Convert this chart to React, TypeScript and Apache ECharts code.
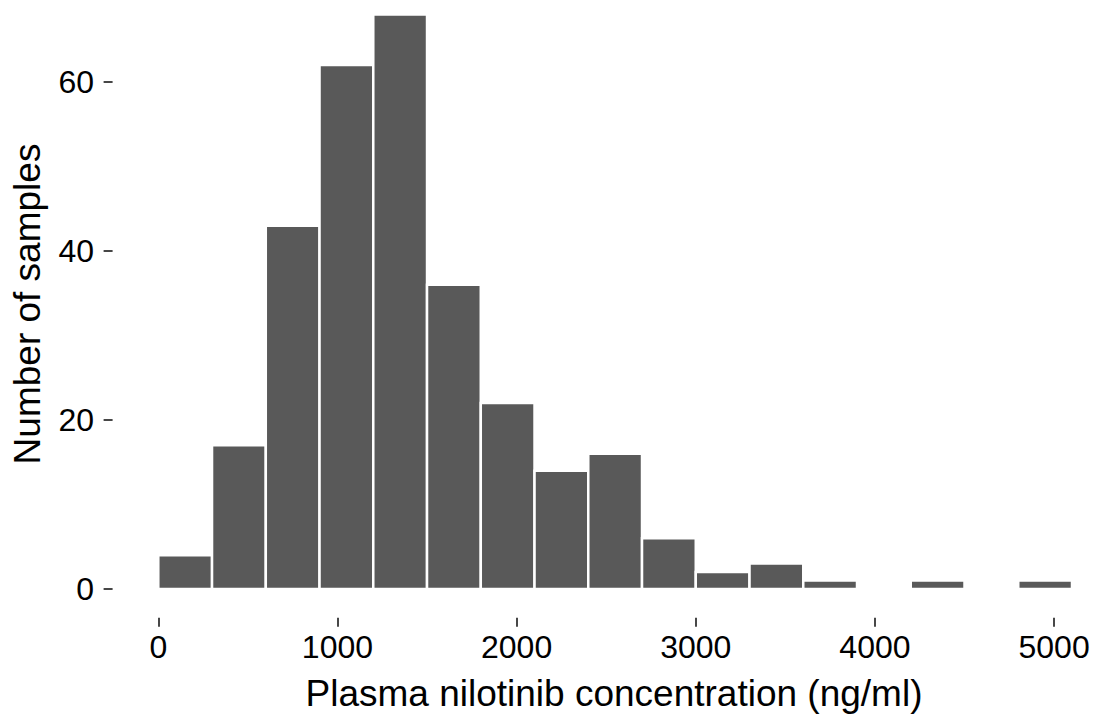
import React, { useEffect, useRef } from "react";
import * as echarts from "echarts";

const binStarts = [0, 300, 600, 900, 1200, 1500, 1800, 2100, 2400, 2700, 3000, 3300, 3600, 3900, 4200, 4500, 4800];
const binEnds = [300, 600, 900, 1200, 1500, 1800, 2100, 2400, 2700, 3000, 3300, 3600, 3900, 4200, 4500, 4800, 5100];
const counts = [4, 17, 43, 62, 68, 36, 22, 14, 16, 6, 2, 3, 1, 0, 1, 0, 1];
const xTicks = [0, 1000, 2000, 3000, 4000, 5000];
const yTicks = [0, 20, 40, 60];
const xTitle = "Plasma nilotinib concentration (ng/ml)";
const yTitle = "Number of samples";

export default function App() {
  const ref = useRef<HTMLDivElement>(null);
  useEffect(() => {
    if (!ref.current) return;
    const chart = echarts.init(ref.current, null, { renderer: "svg" });
    const data = binStarts.map((s, i) => [s, binEnds[i], counts[i]]);
    const font = "'Liberation Sans', Arial, sans-serif";
    chart.setOption({
      animation: false,
      grid: { left: 112.6, right: 25, top: 14.4, bottom: 102.3, containLabel: false },
      xAxis: {
        type: "value",
        min: -255,
        max: 5100,
        axisLine: { show: false, onZero: false },
        splitLine: { show: false },
        axisTick: { show: true, customValues: xTicks, length: 9, lineStyle: { color: "#333333", width: 1.8 } },
        axisLabel: {
          customValues: xTicks,
          margin: 13,
          fontSize: 32,
          color: "#000",
          fontFamily: font,
          formatter: (v: number) => String(v),
        },
      },
      yAxis: {
        type: "value",
        min: -3.4,
        max: 68,
        axisLine: { show: false, onZero: false },
        splitLine: { show: false },
        axisTick: { show: true, customValues: yTicks, length: 9, lineStyle: { color: "#333333", width: 1.8 } },
        axisLabel: {
          customValues: yTicks,
          margin: 18.6,
          fontSize: 32,
          color: "#000",
          fontFamily: font,
          formatter: (v: number) => String(v),
        },
      },
      series: [
        {
          type: "custom",
          data,
          encode: { x: [0, 1], y: 2 },
          renderItem: (params: any, api: any) => {
            const p0 = api.coord([api.value(0), api.value(2)]);
            const p1 = api.coord([api.value(1), 0]);
            return {
              type: "rect",
              shape: { x: p0[0], y: p0[1], width: p1[0] - p0[0], height: p1[1] - p0[1] },
              style: { fill: "#595959", stroke: "#ffffff", lineWidth: 2.5 },
            };
          },
        },
      ],
      graphic: [
        {
          type: "text",
          x: 614,
          y: 693,
          style: { text: xTitle, fontSize: 37, fontFamily: font, fill: "#000", align: "center", verticalAlign: "middle" },
        },
        {
          type: "text",
          x: 27,
          y: 304,
          rotation: Math.PI / 2,
          style: { text: yTitle, fontSize: 37, fontFamily: font, fill: "#000", align: "center", verticalAlign: "middle" },
        },
      ],
    });
    return () => chart.dispose();
  }, []);
  return <div ref={ref} style={{ position: "fixed", left: 0, top: 0, width: 1097, height: 720, background: "#fff" }} />;
}
